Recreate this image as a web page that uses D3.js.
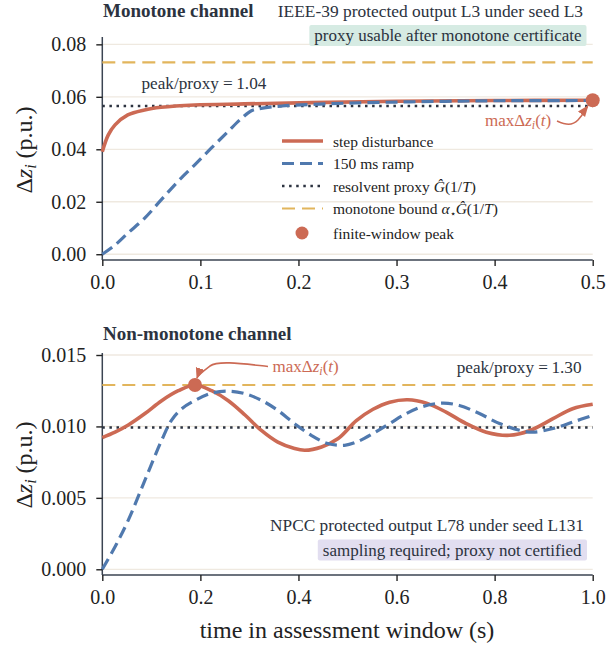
<!DOCTYPE html>
<html>
<head>
<meta charset="utf-8">
<script src="https://cdn.jsdelivr.net/npm/d3@7"></script>
<style>
  body { margin: 0; background: #fff; }
  svg text { font-family: "Liberation Serif", "Times New Roman", serif; }
  .tick text { font-size: 20px; fill: #222; }
  .grid line { stroke: #efe9e0; stroke-width: 1.3; }
</style>
</head>
<body>
<div id="chart"></div>
<script>
// top panel: monotone channel (IEEE-39)
const tStepTop = [0, 0.006, 0.013, 0.026, 0.043, 0.06, 0.094, 0.145, 0.213, 0.3, 0.4, 0.5];
const stepTop  = [0.0391, 0.0454, 0.0493, 0.0531, 0.0550, 0.0560, 0.0569, 0.0573, 0.0578, 0.0583, 0.0586, 0.0587];
const tRampTop = [0, 0.013, 0.026, 0.043, 0.06, 0.077, 0.094, 0.111, 0.128, 0.142, 0.152, 0.162, 0.183, 0.213, 0.25, 0.3, 0.35, 0.4, 0.5];
const rampTop  = [0, 0.0035, 0.008, 0.0137, 0.0207, 0.0277, 0.034, 0.0404, 0.0467, 0.0518, 0.0547, 0.0556, 0.0565, 0.0571, 0.0576, 0.0580, 0.0583, 0.0585, 0.0586];
const proxyTop = 0.0565, boundTop = 0.0731;
const peakTop = [0.5, 0.0587];
const yTicksTop = [0, 0.02, 0.04, 0.06, 0.08];
const xTicksTop = [0, 0.1, 0.2, 0.3, 0.4, 0.5];

// bottom panel: non-monotone channel (NPCC)
const tStepBot = [0, 0.026, 0.053, 0.087, 0.121, 0.155, 0.189, 0.223, 0.257, 0.291, 0.325, 0.358, 0.392, 0.413, 0.447, 0.481, 0.518, 0.552, 0.586, 0.623, 0.661, 0.701, 0.742, 0.783, 0.830, 0.871, 0.919, 0.959, 1.0];
const stepBot  = [0.00922, 0.0096, 0.0101, 0.0109, 0.0118, 0.0125, 0.0129, 0.0125, 0.0118, 0.0108, 0.0097, 0.0089, 0.00845, 0.00833, 0.00856, 0.00915, 0.0104, 0.0112, 0.0117, 0.01187, 0.01163, 0.0110, 0.0102, 0.0096, 0.00938, 0.0097, 0.01054, 0.01124, 0.01155];
const tRampBot = [0, 0.026, 0.053, 0.087, 0.121, 0.141, 0.162, 0.189, 0.223, 0.257, 0.291, 0.325, 0.358, 0.392, 0.426, 0.460, 0.494, 0.518, 0.552, 0.586, 0.620, 0.654, 0.694, 0.728, 0.769, 0.810, 0.851, 0.878, 0.919, 0.959, 1.0];
const rampBot  = [0, 0.00158, 0.00344, 0.00624, 0.00903, 0.01043, 0.01124, 0.01182, 0.01233, 0.01247, 0.01229, 0.01182, 0.01112, 0.0102, 0.00938, 0.0088, 0.00868, 0.0089, 0.0095, 0.0102, 0.0109, 0.0114, 0.01163, 0.01147, 0.0109, 0.0102, 0.00973, 0.0096, 0.00985, 0.0103, 0.01078];
const proxyBot = 0.00992, boundBot = 0.0129;
const peakBot = [0.189, 0.0129];
const yTicksBot = [0, 0.005, 0.010, 0.015];
const xTicksBot = [0, 0.2, 0.4, 0.6, 0.8, 1.0];

const RED = "#cc6a54", BLUE = "#5079ae", GOLD = "#e2b55c", DARK = "#2c3340", SPINE = "#3b4452";

const width = 606, height = 646;
const svg = d3.select("#chart").append("svg")
  .attr("width", width)
  .attr("height", height);

function panel(opts) {
  const x = d3.scaleLinear().domain(opts.xDomain).range([102.3, 592.7]);
  const y = d3.scaleLinear().domain(opts.yDomain).range([opts.bottom, opts.top]);
  const g = svg.append("g");

  // horizontal grid
  g.append("g").attr("class", "grid")
    .selectAll("line").data(opts.yTicks).enter().append("line")
    .attr("x1", x.range()[0]).attr("x2", x.range()[1])
    .attr("y1", d => y(d)).attr("y2", d => y(d));

  const xAxis = g.append("g")
    .attr("transform", `translate(0,${opts.bottom})`)
    .call(d3.axisBottom(x).tickValues(opts.xTicks).tickFormat(d3.format(".1f")).tickSize(6).tickPadding(9));
  const yAxis = g.append("g")
    .attr("transform", `translate(${x.range()[0]},0)`)
    .call(d3.axisLeft(y).tickValues(opts.yTicks).tickFormat(d3.format(opts.yFormat)).tickSize(6).tickPadding(10));
  [xAxis, yAxis].forEach(a => {
    a.select(".domain").attr("stroke", SPINE).attr("stroke-width", 1.5);
    a.selectAll(".tick line").attr("stroke", "#222").attr("stroke-width", 1.4);
  });
  xAxis.select(".domain").attr("d", `M${x.range()[0]},0H${x.range()[1]}`);
  yAxis.select(".domain").attr("d", `M0,${opts.bottom}V${opts.top}`);

  // reference lines
  g.append("line")
    .attr("x1", x.range()[0]).attr("x2", x.range()[1])
    .attr("y1", y(opts.bound)).attr("y2", y(opts.bound))
    .attr("stroke", GOLD).attr("stroke-width", 2.2).attr("stroke-dasharray", "13,7");
  g.append("line")
    .attr("x1", x.range()[0]).attr("x2", x.range()[1])
    .attr("y1", y(opts.proxy)).attr("y2", y(opts.proxy))
    .attr("stroke", DARK).attr("stroke-width", 2.5).attr("stroke-dasharray", "2.5,4.6");

  const line = d3.line().x(d => x(d[0])).y(d => y(d[1])).curve(d3.curveCatmullRom.alpha(0.5));
  g.append("path")
    .datum(d3.zip(opts.tStep, opts.step))
    .attr("d", line).attr("fill", "none")
    .attr("stroke", RED).attr("stroke-width", 3.6);
  g.append("path")
    .datum(d3.zip(opts.tRamp, opts.ramp))
    .attr("d", line).attr("fill", "none")
    .attr("stroke", BLUE).attr("stroke-width", 3.2).attr("stroke-dasharray", "12,6");

  g.append("circle")
    .attr("cx", x(opts.peak[0])).attr("cy", y(opts.peak[1])).attr("r", 7)
    .attr("fill", RED);

  return { g, x, y };
}

const topPanel = panel({
  xDomain: [0, 0.5], yDomain: [-0.0022, 0.0828], top: 37, bottom: 260,
  xTicks: xTicksTop, yTicks: yTicksTop, yFormat: ".2f",
  tStep: tStepTop, step: stepTop, tRamp: tRampTop, ramp: rampTop,
  proxy: proxyTop, bound: boundTop, peak: peakTop
});
const botPanel = panel({
  xDomain: [0, 1], yDomain: [-0.0004, 0.01514], top: 353, bottom: 575,
  xTicks: xTicksBot, yTicks: yTicksBot, yFormat: ".3f",
  tStep: tStepBot, step: stepBot, tRamp: tRampBot, ramp: rampBot,
  proxy: proxyBot, bound: boundBot, peak: peakBot
});

// y labels
function yLabel(cy) {
  const t = svg.append("text")
    .attr("transform", `translate(32,${cy}) rotate(-90)`)
    .attr("text-anchor", "middle")
    .attr("font-size", 24).attr("fill", "#222");
  t.append("tspan").text("Δ");
  t.append("tspan").attr("font-style", "italic").text("z");
  t.append("tspan").attr("font-style", "italic").attr("font-size", 16).attr("dy", 4).text("i");
  t.append("tspan").attr("dy", -4).text(" (p.u.)");
}
yLabel(150);
yLabel(465);

svg.append("text")
  .attr("x", 347).attr("y", 638)
  .attr("text-anchor", "middle")
  .attr("font-size", 24).attr("fill", "#222")
  .text("time in assessment window (s)");

// titles
svg.append("text").attr("x", 103).attr("y", 17)
  .attr("font-size", 19).attr("font-weight", "bold").attr("fill", DARK)
  .text("Monotone channel");
svg.append("text").attr("x", 583).attr("y", 17)
  .attr("text-anchor", "end").attr("font-size", 17.4).attr("fill", DARK)
  .text("IEEE-39 protected output L3 under seed L3");
svg.append("text").attr("x", 103).attr("y", 340)
  .attr("font-size", 19).attr("font-weight", "bold").attr("fill", DARK)
  .text("Non-monotone channel");

// status boxes
function statusBox(text, xr, yb, fill) {
  const t = svg.append("text").attr("x", xr).attr("y", yb)
    .attr("text-anchor", "end").attr("font-size", 17).attr("fill", DARK)
    .text(text);
  const bb = t.node().getBBox();
  svg.insert("rect", () => t.node())
    .attr("x", bb.x - 5).attr("y", bb.y - 1)
    .attr("width", bb.width + 10).attr("height", bb.height + 2)
    .attr("rx", 2).attr("fill", fill);
}
statusBox("proxy usable after monotone certificate", 581.5, 41, "#d6ebe3");
svg.append("text").attr("x", 584).attr("y", 530.5)
  .attr("text-anchor", "end").attr("font-size", 17.3).attr("fill", DARK)
  .text("NPCC protected output L78 under seed L131");
statusBox("sampling required; proxy not certified", 581.5, 555.5, "#e2def0");

// ratio labels
function ratio(x, y, anchor, val) {
  svg.append("text").attr("x", x).attr("y", y)
    .attr("text-anchor", anchor).attr("font-size", 17.2).attr("fill", DARK)
    .text("peak/proxy =\u20091." + val);
}
ratio(141.5, 89, "start", "04");
ratio(581.5, 373, "end", "30");

// peak annotations
function maxLabel(x, y) {
  const t = svg.append("text").attr("x", x).attr("y", y)
    .attr("font-size", 17).attr("fill", RED);
  t.append("tspan").text("maxΔ");
  t.append("tspan").attr("font-style", "italic").text("z");
  t.append("tspan").attr("font-style", "italic").attr("font-size", 12).attr("dy", 3).text("i");
  t.append("tspan").attr("dy", -3).text("(");
  t.append("tspan").attr("font-style", "italic").text("t");
  t.append("tspan").text(")");
}
maxLabel(485, 126);
maxLabel(272.5, 372);

svg.append("defs").append("marker")
  .attr("id", "arrow").attr("viewBox", "0 0 10 10")
  .attr("refX", 9).attr("refY", 5)
  .attr("markerWidth", 7).attr("markerHeight", 7)
  .attr("orient", "auto")
  .append("path").attr("d", "M0,1L10,5L0,9z").attr("fill", RED);

const px = topPanel.x(peakTop[0]), py = topPanel.y(peakTop[1]);
svg.append("path")
  .attr("d", `M557,121 C566,125 572,126 578,120 S584,111 ${px - 5},${py + 6}`)
  .attr("fill", "none").attr("stroke", RED).attr("stroke-width", 1.6)
  .attr("marker-end", "url(#arrow)");
const bx = botPanel.x(peakBot[0]), by = botPanel.y(peakBot[1]);
svg.append("path")
  .attr("d", `M268,366.5 C245,364 218,360 210,366 S${bx + 3},${by - 10} ${bx + 2},${by - 7}`)
  .attr("fill", "none").attr("stroke", RED).attr("stroke-width", 1.6)
  .attr("marker-end", "url(#arrow)");

// legend in the top panel
const legend = svg.append("g").attr("transform", "translate(282,141)");
const items = [
  { label: [["step disturbance"]], type: "line", stroke: RED, w: 3.6, dash: null },
  { label: [["150 ms ramp"]], type: "line", stroke: BLUE, w: 3.2, dash: "12,6" },
  { label: [["resolvent proxy "], ["Ĝ", "i"], ["(1/"], ["T", "i"], [")"]], type: "line", stroke: DARK, w: 2.5, dash: "2.5,4.6" },
  { label: [["monotone bound "], ["α", "i"], ["⋆", "sub"], ["Ĝ", "up"], ["(1/"], ["T", "i"], [")"]], type: "line", stroke: GOLD, w: 2.2, dash: "13,7" },
  { label: [["finite-window peak"]], type: "dot" }
];
const rowY = [0, 22.5, 45, 67.5, 92];
items.forEach((it, i) => {
  const row = legend.append("g").attr("transform", `translate(0,${rowY[i]})`);
  if (it.type === "line") {
    row.append("line").attr("x1", 0).attr("x2", 41).attr("y1", 0).attr("y2", 0)
      .attr("stroke", it.stroke).attr("stroke-width", it.w)
      .attr("stroke-dasharray", it.dash);
  } else {
    row.append("circle").attr("cx", 20).attr("cy", 0).attr("r", 6.5).attr("fill", RED);
  }
  const t = row.append("text").attr("x", 51).attr("y", 5.5)
    .attr("font-size", 15.5).attr("fill", "#222");
  it.label.forEach(p => {
    const s = t.append("tspan").text(p[0]);
    if (p[1] === "i") s.attr("font-style", "italic");
    if (p[1] === "sub") s.attr("font-size", 10).attr("dy", 3);
    if (p[1] === "up") s.attr("font-style", "italic").attr("dy", -3);
  });
});
</script>
</body>
</html>
